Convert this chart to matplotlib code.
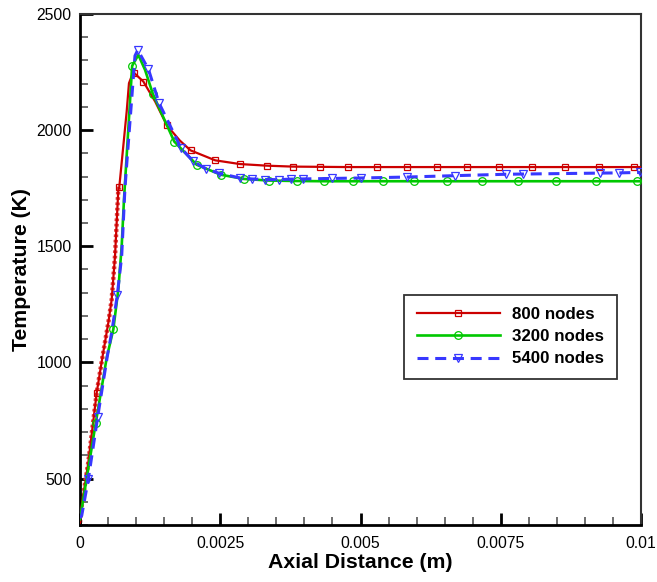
import numpy as np
import matplotlib
matplotlib.use("Agg")
from matplotlib import pyplot as plt
from matplotlib.ticker import MultipleLocator

plt.rcParams['font.family'] = ['Liberation Sans', 'DejaVu Sans']

# 800 nodes
red_x = [0, 0.00003, 0.000148, 0.000298, 0.000398, 0.000505, 0.000565, 0.000624,
         0.000683, 0.0007, 0.000832, 0.000873, 0.00093, 0.00097, 0.00113, 0.00134,
         0.00155, 0.00178, 0.00197, 0.00241, 0.00285, 0.00333, 0.00379, 0.00428,
         0.00478, 0.00529, 0.00583, 0.00636, 0.0069, 0.00747, 0.00806, 0.00865,
         0.00925, 0.00988, 0.01]
red_T = [310, 383, 569, 870, 1020, 1171, 1271, 1457,
         1744, 1754, 2080, 2202, 2238, 2245, 2209, 2123,
         2020, 1955, 1913, 1870, 1854, 1847, 1843, 1842,
         1841, 1841, 1841, 1841, 1841, 1841, 1841, 1841,
         1841, 1841, 1841]
red_marks = [0.000298, 0.0007, 0.00097, 0.00113, 0.00155, 0.00197, 0.00241, 0.00285,
             0.00333, 0.00379, 0.00428, 0.00478, 0.00529, 0.00583, 0.00636, 0.0069,
             0.00747, 0.00806, 0.00865, 0.00925, 0.00988]

# 3200 nodes
green_x = [0, 0.00028, 0.000476, 0.000594, 0.000683, 0.000743, 0.000784, 0.00086,
           0.00093, 0.00104, 0.00116, 0.0013, 0.00168, 0.00208, 0.00251, 0.00292,
           0.00337, 0.00386, 0.00435, 0.00486, 0.0054, 0.00596, 0.00655, 0.00717,
           0.00781, 0.00848, 0.00919, 0.00993, 0.01]
green_T = [325, 738, 1020, 1142, 1314, 1500, 1701, 2000,
           2277, 2324, 2259, 2155, 1951, 1851, 1808, 1790,
           1783, 1781, 1780, 1780, 1780, 1780, 1780, 1780,
           1780, 1780, 1780, 1780, 1780]
green_marks = [0.00028, 0.000594, 0.00093, 0.0013, 0.00168, 0.00208, 0.00251, 0.00292,
               0.00337, 0.00386, 0.00435, 0.00486, 0.0054, 0.00596, 0.00655, 0.00717,
               0.00781, 0.00848, 0.00919, 0.00993]

# 5400 nodes
blue_x = [0, 0.00003, 0.000148, 0.000315, 0.000487, 0.000565, 0.000665, 0.000743,
          0.0008, 0.000832, 0.00098, 0.00103, 0.00122, 0.00141, 0.0018, 0.00202,
          0.00225, 0.00247, 0.00285, 0.00306, 0.0033, 0.00354, 0.00376, 0.00398,
          0.0045, 0.00501, 0.00582, 0.00668, 0.00759, 0.0079, 0.00927, 0.00961,
          0.00999]
blue_T = [330, 340, 497, 765, 1027, 1129, 1290, 1457,
          1744, 1851, 2320, 2345, 2262, 2116, 1923, 1865,
          1833, 1815, 1794, 1790, 1787, 1787, 1789, 1790,
          1792, 1794, 1798, 1804, 1810, 1811, 1815, 1816,
          1818]
blue_marks = [0.000148, 0.000315, 0.000665, 0.00103, 0.00122, 0.00141, 0.0018, 0.00202,
              0.00225, 0.00247, 0.00285, 0.00306, 0.0033, 0.00354, 0.00376, 0.00398,
              0.0045, 0.00501, 0.00582, 0.00668, 0.00759, 0.0079, 0.00927, 0.00961,
              0.00999]

x_ticks = [0, 0.0025, 0.005, 0.0075, 0.01]
x_ticklabels = ['0', '0.0025', '0.005', '0.0075', '0.01']
y_ticks = [500, 1000, 1500, 2000, 2500]

RED = '#cc0000'
GREEN = '#00c800'
BLUE = '#3838ff'

fig = plt.figure(figsize=(6.57, 5.82), dpi=100)
ax = fig.add_axes([80 / 657, 57 / 582, 561 / 657, 511 / 582])


def marks(xs, sel):
    return [x in sel for x in xs]


# dotted look of the dense red markers on the steep rise
n_rise = 10
ax.plot(red_x[:n_rise], red_T[:n_rise], color='#e04040', lw=3.2,
        ls=(0, (0.6, 0.6)), zorder=2)
ax.plot(red_x, red_T, color=RED, lw=1.6, marker='s', ms=4.5, mfc='none',
        mec=RED, mew=0.9, markevery=marks(red_x, red_marks), label='800 nodes', zorder=3)
ax.plot(green_x, green_T, color=GREEN, lw=1.9, marker='o', ms=5.5, mfc='none',
        mec=GREEN, mew=0.9, markevery=marks(green_x, green_marks), label='3200 nodes', zorder=4)
ax.plot(blue_x, blue_T, color=BLUE, lw=2.2, dashes=(3.6, 2.2), marker='v', ms=5.5,
        mfc='none', mec=BLUE, mew=0.9, markevery=marks(blue_x, blue_marks),
        label='5400 nodes', zorder=5)

ax.set_xlim(0, 0.01)
ax.set_ylim(300, 2500)
ax.set_xticks(x_ticks)
ax.set_xticklabels(x_ticklabels)
ax.set_yticks(y_ticks)
ax.xaxis.set_minor_locator(MultipleLocator(0.0005))
ax.yaxis.set_minor_locator(MultipleLocator(100))

ax.tick_params(which='major', direction='in', length=9, width=2, color='black',
               labelsize=11.3, top=False, right=False)
ax.tick_params(which='minor', direction='in', length=6, width=1.2, color='#555555',
               top=False, right=False)
ax.tick_params(axis='y', which='major', pad=6)
ax.tick_params(axis='x', which='major', pad=8)

for side in ['left', 'bottom']:
    ax.spines[side].set_linewidth(2)
    ax.spines[side].set_color('black')
for side in ['top', 'right']:
    ax.spines[side].set_linewidth(1.5)
    ax.spines[side].set_color('#333333')

ax.set_xlabel('Axial Distance (m)', fontsize=15.3, fontweight='bold', labelpad=1)
ax.set_ylabel('Temperature (K)', fontsize=15.3, fontweight='bold', labelpad=4)

leg = ax.legend(loc='upper left', bbox_to_anchor=(0.5775, 0.451), borderaxespad=0,
                prop={'weight': 'bold', 'size': 12.2}, handlelength=4.9,
                handletextpad=0.75, labelspacing=0.42, borderpad=0.75,
                fancybox=False, frameon=True, framealpha=1)
leg.get_frame().set_edgecolor('#333333')
leg.get_frame().set_linewidth(1.3)

fig.savefig('out.png', dpi=100)
